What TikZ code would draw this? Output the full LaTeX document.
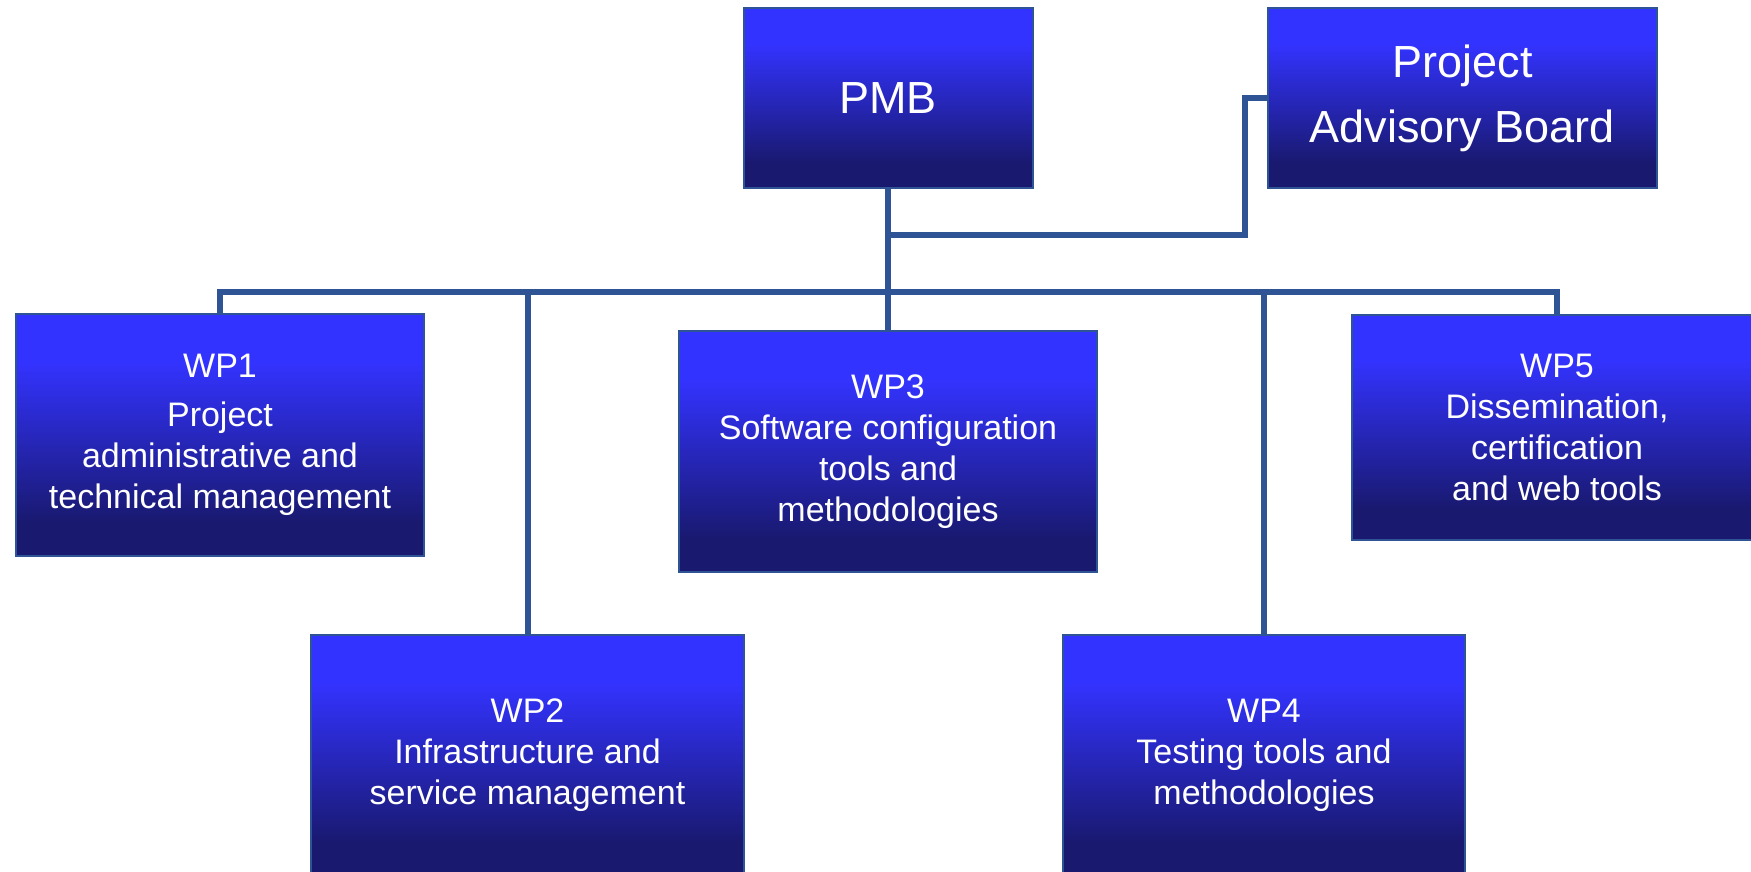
\documentclass[tikz,border=0pt]{standalone}
\usepackage{fontspec}
\setmainfont{Liberation Sans}
\definecolor{linkblue}{RGB}{46,84,150}
\definecolor{boxtop}{RGB}{51,51,255}
\definecolor{boxbottom}{RGB}{25,25,112}
\pgfdeclareverticalshading{wpshading}{100bp}{color(0bp)=(boxbottom); color(32bp)=(boxbottom); color(65bp)=(boxtop); color(100bp)=(boxtop)}
\begin{document}
\begin{tikzpicture}[x=0.5pt,y=-0.5pt,
	wpbox/.style={draw=linkblue, line width=1pt, shading=wpshading, text=white, align=center, inner sep=0pt, font=\fontsize{17}{20.5}\selectfont},
	bigbox/.style={wpbox, font=\fontsize{22.5}{32.5}\selectfont},
	link/.style={draw=linkblue, line width=3pt}]
	\useasboundingbox (0,0) rectangle (1751,872);
	\path (888,98) node [bigbox, minimum width=144.5pt, minimum height=90pt] (pmb) {PMB};
	\path (1462.5,98) node [bigbox, minimum width=194.5pt, minimum height=90pt] (pab) {Project\\Advisory Board};
	\path (220,435) node [wpbox, minimum width=204pt, minimum height=121pt] (wp1) {WP1\\[4pt]Project\\administrative and\\technical management};
	\path (527.5,755.5) node [wpbox, minimum width=216.5pt, minimum height=120.5pt] (wp2) {WP2\\Infrastructure and\\service management};
	\path (888,451.5) node [wpbox, minimum width=209pt, minimum height=120.5pt] (wp3) {WP3\\Software configuration\\tools and\\methodologies};
	\path (1264,755.5) node [wpbox, minimum width=201pt, minimum height=120.5pt] (wp4) {WP4\\Testing tools and\\methodologies};
	\path (1557,427.5) node [wpbox, minimum width=205pt, minimum height=112.5pt] (wp5) {WP5\\Dissemination,\\certification\\and web tools};
	\coordinate (bus) at (888,292);
	\coordinate (turn) at (1245,235);
	\draw [link] (pmb.south) -- (wp3.north);
	\draw [link] (wp1.north) |- (bus) -| (wp5.north);
	\draw [link] (wp2.north) |- (bus);
	\draw [link] (wp4.north) |- (bus);
	\draw [link] (pab.west) -| (turn) -- (pmb.south |- turn);
\end{tikzpicture}
\end{document}
